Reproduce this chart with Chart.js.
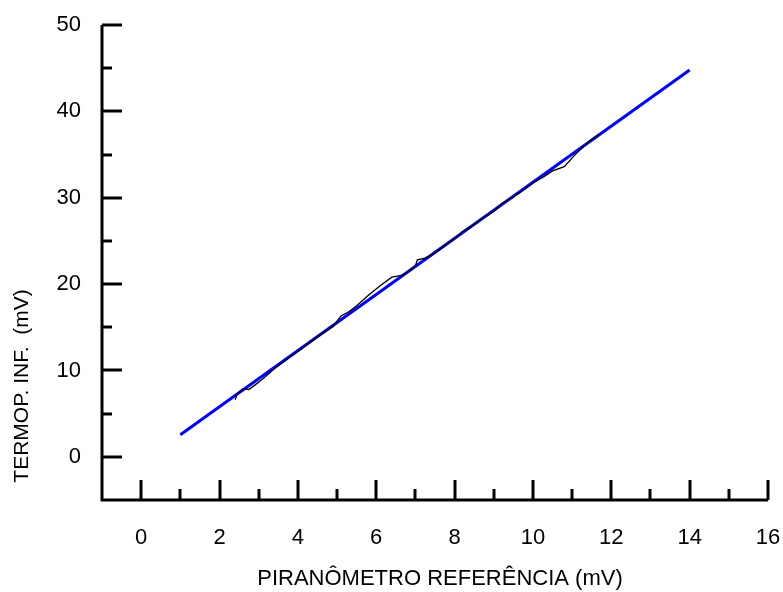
<!DOCTYPE html>
<html>
<head>
<meta charset="utf-8">
<script src="https://cdn.jsdelivr.net/npm/chart.js@4"></script>
<style>
  html, body { margin: 0; padding: 0; background: #fff; }
  #wrap { width: 783px; height: 592px; }
</style>
</head>
<body>
<div id="wrap"><canvas id="chart" width="783" height="592"></canvas></div>
<script>
// measured curve (piranometro vs termopilha)
const measX = [2.4, 2.45, 2.6, 2.75, 2.9, 3.1, 3.4, 3.7, 4.0, 4.3, 4.5, 4.7, 4.9, 5.0, 5.1, 5.3, 5.5,
  5.8, 6.1, 6.4, 6.65, 6.8, 7.0, 7.05, 7.25, 7.5, 7.8, 8.1, 8.2, 8.4, 8.7, 9.0, 9.2, 9.5, 9.8,
  10.0, 10.3, 10.5, 10.8, 11.1, 11.4, 11.7];
const measY = [6.6, 7.3, 7.9, 7.8, 8.3, 9.0, 10.2, 11.2, 12.2, 13.2, 13.9, 14.5, 15.1, 15.7, 16.3, 16.8, 17.5,
  18.7, 19.8, 20.8, 21.0, 21.4, 22.1, 22.8, 23.0, 23.6, 24.6, 25.6, 26.1, 26.6, 27.6, 28.4, 29.3, 30.1, 31.0,
  31.7, 32.5, 33.1, 33.6, 35.1, 36.4, 37.4];

// linear fit
const fitX = [1, 14];
const fitY = [2.55, 44.8];

const xTickLabels = [0, 2, 4, 6, 8, 10, 12, 14, 16];
const yTickLabels = [0, 10, 20, 30, 40, 50];

const xTitle = 'PIRANÔMETRO REFERÊNCIA (mV)';
const yTitle = 'TERMOP. INF.  (mV)';

const FAMILY = '"Liberation Sans", Arial, sans-serif';

// axes drawn by hand: inward ticks like the original plot
const axesPlugin = {
  id: 'axesPlugin',
  afterDraw(chart) {
    const ctx = chart.ctx;
    const xs = chart.scales.x, ys = chart.scales.y;
    const area = chart.chartArea;
    ctx.save();
    ctx.strokeStyle = '#000';
    ctx.lineWidth = 3;
    ctx.lineCap = 'butt';
    // axis lines
    ctx.beginPath();
    ctx.moveTo(area.left, area.top);
    ctx.lineTo(area.left, area.bottom);
    ctx.lineTo(area.right, area.bottom);
    ctx.stroke();

    // x ticks, pointing up
    for (let v = 0; v <= 16; v++) {
      const px = Math.round(xs.getPixelForValue(v));
      const len = v % 2 === 0 ? 20 : 11;
      ctx.beginPath();
      ctx.moveTo(px, area.bottom);
      ctx.lineTo(px, area.bottom - len);
      ctx.stroke();
    }
    // y ticks, pointing right
    for (let v = 0; v <= 50; v += 5) {
      const py = Math.round(ys.getPixelForValue(v));
      const len = v % 10 === 0 ? 20 : 10;
      ctx.beginPath();
      ctx.moveTo(area.left, py);
      ctx.lineTo(area.left + len, py);
      ctx.stroke();
    }

    ctx.fillStyle = '#000';
    ctx.font = '22px ' + FAMILY;
    ctx.textAlign = 'center';
    ctx.textBaseline = 'middle';
    xTickLabels.forEach(v => {
      ctx.fillText(String(v), xs.getPixelForValue(v), 538);
    });
    ctx.textAlign = 'right';
    yTickLabels.forEach(v => {
      ctx.fillText(String(v), 81, ys.getPixelForValue(v));
    });

    // titles
    ctx.textAlign = 'center';
    ctx.fillText(xTitle, 440, 579);
    ctx.font = '21px ' + FAMILY;
    ctx.translate(22, 386);
    ctx.rotate(-Math.PI / 2);
    ctx.fillText(yTitle, 0, 0);
    ctx.restore();
  }
};

new Chart(document.getElementById('chart'), {
  type: 'scatter',
  data: {
    datasets: [
      {
        label: 'medido',
        data: measX.map((x, i) => ({ x: x, y: measY[i] })),
        showLine: true,
        borderColor: '#000',
        borderWidth: 1.3,
        pointRadius: 0,
        tension: 0
      },
      {
        label: 'ajuste',
        data: fitX.map((x, i) => ({ x: x, y: fitY[i] })),
        showLine: true,
        borderColor: '#0000ff',
        borderWidth: 3,
        pointRadius: 0
      }
    ]
  },
  options: {
    responsive: false,
    animation: false,
    layout: { padding: { left: 102, right: 15, top: 25, bottom: 92 } },
    plugins: {
      legend: { display: false },
      tooltip: { enabled: false }
    },
    scales: {
      x: {
        type: 'linear',
        min: -1,
        max: 16,
        ticks: { display: false },
        grid: { display: false },
        border: { display: false },
        afterFit(scale) { scale.height = 0; }
      },
      y: {
        type: 'linear',
        min: -5,
        max: 50,
        ticks: { display: false },
        grid: { display: false },
        border: { display: false },
        afterFit(scale) { scale.width = 0; }
      }
    }
  },
  plugins: [axesPlugin]
});
</script>
</body>
</html>
